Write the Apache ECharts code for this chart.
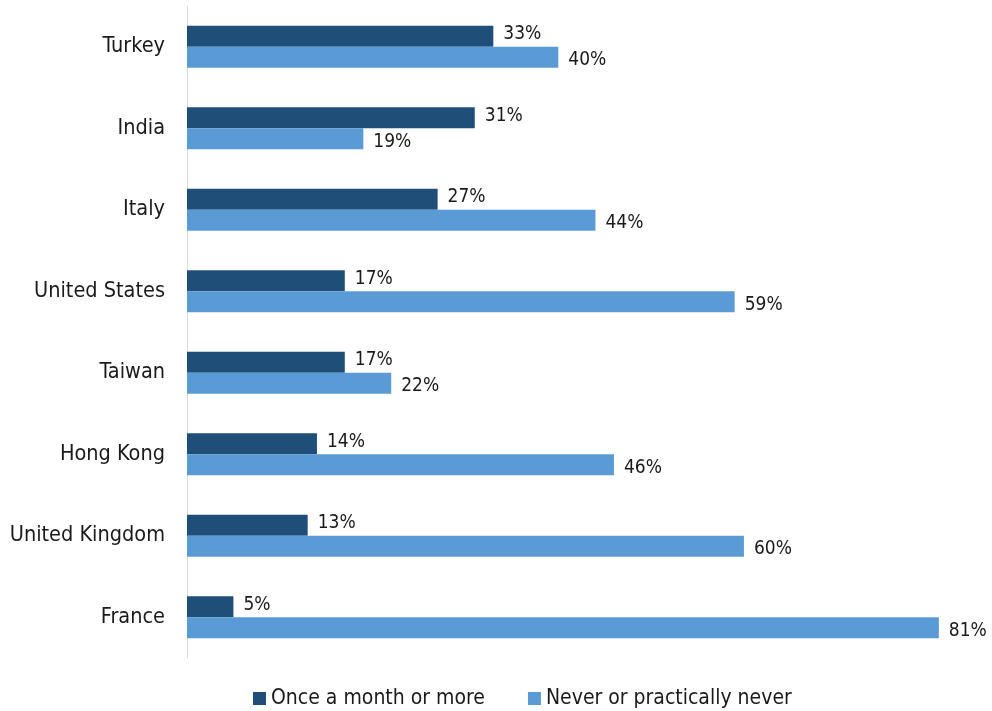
<!DOCTYPE html>
<html><head><meta charset="utf-8">
<script src="https://cdn.jsdelivr.net/npm/echarts@6/dist/echarts.min.js"></script>
<style>html,body{margin:0;padding:0;background:#fff}#c{width:992px;height:711px}</style>
</head><body><div id="c"></div>
<script>
var categories = ['Turkey','India','Italy','United States','Taiwan','Hong Kong','United Kingdom','France'];
var seriesNames = ['Once a month or more','Never or practically never'];
var onceAMonth = [33,31,27,17,17,14,13,5];
var never = [40,19,44,59,22,46,60,81];
var FONT = '"DejaVu Sans Condensed", "Liberation Sans Narrow", sans-serif';
var chart = echarts.init(document.getElementById('c'));
chart.setOption({
  animation:false,
  textStyle:{fontFamily:FONT},
  grid:{left:187,top:6,height:652,width:789},
  xAxis:{type:'value',min:0,max:85,show:false,splitLine:{show:false}},
  yAxis:{type:'category',data:categories,inverse:true,
    axisLine:{lineStyle:{color:'#d9d9d9',width:1}},axisTick:{show:false},
    axisLabel:{fontSize:21.5,color:'#1a1a1a',margin:22,fontFamily:FONT,padding:[3,0,0,0]}},
  legend:{top:683,left:248,itemWidth:13,itemHeight:13,itemGap:43,icon:'rect',
    textStyle:{fontSize:21,color:'#1a1a1a',fontFamily:FONT},data:seriesNames},
  series:[
    {name:seriesNames[0],type:'bar',data:onceAMonth,barWidth:21,barGap:'0%',
      itemStyle:{color:'#1f4e79'},
      label:{show:true,position:'right',distance:10,formatter:'{c}%',fontSize:19,color:'#1a1a1a',fontFamily:FONT,offset:[0,-2]}},
    {name:seriesNames[1],type:'bar',data:never,barWidth:21,
      itemStyle:{color:'#5b9bd5'},
      label:{show:true,position:'right',distance:10,formatter:'{c}%',fontSize:19,color:'#1a1a1a',fontFamily:FONT,offset:[0,3]}}
  ]
});
</script></body></html>
